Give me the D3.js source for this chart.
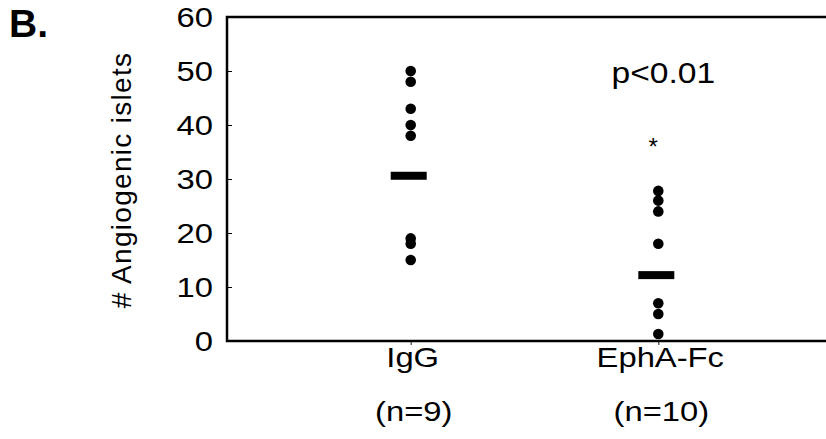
<!DOCTYPE html>
<html>
<head>
<meta charset="utf-8">
<script src="https://cdn.jsdelivr.net/npm/d3@7"></script>
<style>
  body { margin: 0; background: #fff; }
  svg { display: block; font-family: "Liberation Sans", Arial, Helvetica, sans-serif; }
</style>
</head>
<body>
<svg width="826" height="439"></svg>
<script>
// data
var groups = ["IgG", "EphA-Fc"];
var groupN = ["(n=9)", "(n=10)"];
var iggValues = [50, 48, 43, 40, 38, 19, 18, 15];
var ephaValues = [27.8, 26, 24, 18, 7, 5, 1.3];
var groupMeans = [30.6, 12.2];
var yTicks = [0, 10, 20, 30, 40, 50, 60];

var svg = d3.select("svg"),
    margin = {top: 17, right: -16, bottom: 98, left: 227},
    width = +svg.attr("width") - margin.left - margin.right,
    height = +svg.attr("height") - margin.top - margin.bottom,
    g = svg.append("g").attr("transform", "translate(" + margin.left + "," + margin.top + ")");

var x = d3.scalePoint()
    .domain(groups)
    .range([0, width])
    .padding(0.742);

var y = d3.scaleLinear()
    .domain([0, 60])
    .range([height, 0]);

var sx = 1.17; // glyphs in the figure are wider than they are tall

// y ticks point inward
g.append("g")
    .call(d3.axisLeft(y).tickValues(yTicks).tickSize(-5).tickFormat(""))
    .call(function(a) { a.select(".domain").remove(); })
    .selectAll("line").attr("stroke", "#000").attr("stroke-width", 1);

g.selectAll(".ylab")
    .data(yTicks)
    .enter().append("text")
    .attr("class", "ylab")
    .attr("transform", function(d) { return "translate(-14," + (y(d) + 10) + ") scale(" + sx + ",1)"; })
    .attr("text-anchor", "end")
    .attr("font-size", 28)
    .attr("fill", "#000")
    .text(function(d) { return d; });

// x ticks point outward, no labels from the axis
g.append("g")
    .attr("transform", "translate(0," + height + ")")
    .call(d3.axisBottom(x).tickSize(4).tickFormat(""))
    .call(function(a) { a.select(".domain").remove(); })
    .selectAll("line").attr("stroke", "#444").attr("stroke-width", 1.2);

// frame
g.append("path")
    .attr("d", "M" + width + ",0H0V" + height + "H" + width)
    .attr("fill", "none")
    .attr("stroke", "#000")
    .attr("stroke-width", 2.5);

// category labels
g.selectAll(".xlab")
    .data(groups)
    .enter().append("text")
    .attr("class", "xlab")
    .attr("transform", function(d) { return "translate(" + (x(d) + 2) + "," + (height + 26) + ") scale(" + sx + ",1)"; })
    .attr("text-anchor", "middle")
    .attr("font-size", 28)
    .attr("fill", "#000")
    .text(function(d) { return d; });

g.selectAll(".nlab")
    .data(groupN)
    .enter().append("text")
    .attr("class", "nlab")
    .attr("transform", function(d, i) { return "translate(" + (x(groups[i]) + 3) + "," + (height + 80) + ") scale(" + sx + ",1)"; })
    .attr("text-anchor", "middle")
    .attr("font-size", 28)
    .attr("fill", "#000")
    .text(function(d) { return d; });

// points
var series = [iggValues, ephaValues];
series.forEach(function(vals, i) {
    g.selectAll(".dot" + i)
        .data(vals)
        .enter().append("circle")
        .attr("class", "dot" + i)
        .attr("cx", x(groups[i]))
        .attr("cy", function(d) { return y(d); })
        .attr("r", 5.3)
        .attr("fill", "#000");
});

// mean bars
g.selectAll(".mean")
    .data(groupMeans)
    .enter().append("rect")
    .attr("class", "mean")
    .attr("x", function(d, i) { return x(groups[i]) - 20; })
    .attr("y", function(d) { return y(d) - 4; })
    .attr("width", 36)
    .attr("height", 8)
    .attr("fill", "#000");

// significance
g.append("text")
    .attr("transform", "translate(" + (x("EphA-Fc") + 5) + "," + 66 + ") scale(1.12,1)")
    .attr("text-anchor", "middle")
    .attr("font-size", 30)
    .attr("fill", "#000")
    .text("p<0.01");

g.append("text")
    .attr("x", x("EphA-Fc") - 5)
    .attr("y", 138)
    .attr("text-anchor", "middle")
    .attr("font-size", 24)
    .attr("fill", "#000")
    .text("*");

// y axis title
svg.append("text")
    .attr("transform", "translate(131,180) rotate(-90)")
    .attr("text-anchor", "middle")
    .attr("font-size", 28)
    .attr("letter-spacing", 1.3)
    .attr("fill", "#000")
    .text("# Angiogenic islets");

// panel letter
svg.append("text")
    .attr("x", 9)
    .attr("y", 37)
    .attr("font-size", 39)
    .attr("font-weight", "bold")
    .attr("fill", "#000")
    .text("B.");
</script>
</body>
</html>
